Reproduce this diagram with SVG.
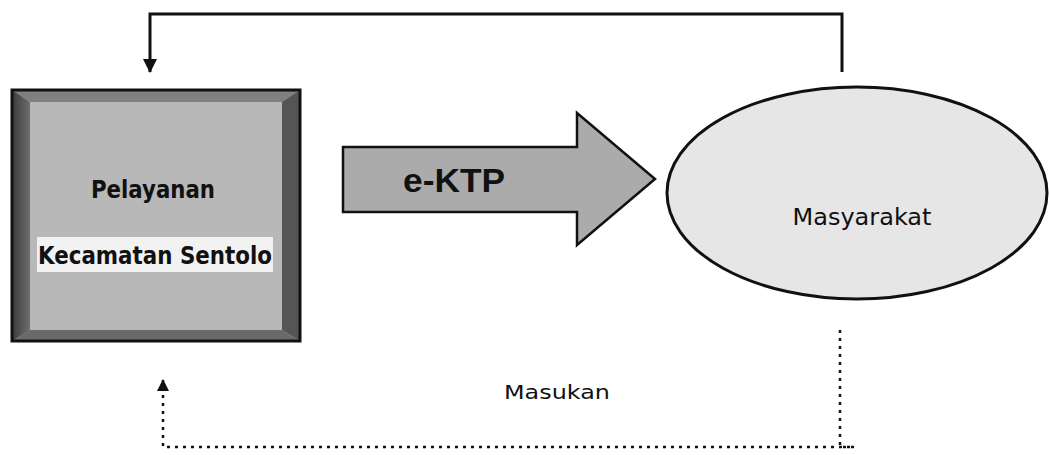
<svg xmlns="http://www.w3.org/2000/svg" width="1049" height="455" viewBox="0 0 1049 455">
  <style>
    .lbl { font-family: "DejaVu Sans", Verdana, sans-serif; fill: #111; }
    .solid { fill: none; stroke: #111; stroke-width: 3; }
    .dotted { fill: none; stroke: #111; stroke-width: 2.5; stroke-dasharray: 3 5; }
  </style>
  <defs>
    <marker id="headSolid" markerWidth="14" markerHeight="14" refX="13" refY="7" orient="auto" markerUnits="userSpaceOnUse" viewBox="0 0 14 14">
      <path d="M0,0 L14,7 L0,14 Z" fill="#111"/>
    </marker>
    <marker id="headSmall" markerWidth="12" markerHeight="12" refX="11" refY="6" orient="auto" markerUnits="userSpaceOnUse" viewBox="0 0 12 12">
      <path d="M0,0 L12,6 L0,12 Z" fill="#111"/>
    </marker>
    <linearGradient id="leftBand" x1="0" y1="0" x2="1" y2="0">
      <stop offset="0" stop-color="#3a3a3a"/>
      <stop offset="1" stop-color="#6e6e6e"/>
    </linearGradient>
  </defs>

  <rect width="1049" height="455" fill="#ffffff"/>

  <!-- service unit box with bevelled frame -->
  <g id="pelayanan">
    <rect x="12" y="90" width="288" height="251" fill="#b8b8b8"/>
    <polygon points="12,90 300,90 282,102 30,102" fill="#808080"/>
    <polygon points="12,90 30,102 30,330 12,341" fill="url(#leftBand)"/>
    <polygon points="300,90 300,341 282,330 282,102" fill="#555555"/>
    <polygon points="12,341 30,330 282,330 300,341" fill="#6a6a6a"/>
    <rect x="12" y="90" width="288" height="251" fill="none" stroke="#111" stroke-width="3"/>
    <text class="lbl" x="153" y="198" font-size="25" font-weight="bold" text-anchor="middle" textLength="124" lengthAdjust="spacingAndGlyphs">Pelayanan</text>
    <rect x="37" y="237" width="236" height="35" fill="#f2f2f2"/>
    <text class="lbl" x="155" y="264" font-size="25" font-weight="bold" text-anchor="middle" textLength="234" lengthAdjust="spacingAndGlyphs">Kecamatan Sentolo</text>
  </g>

  <!-- e-KTP block arrow -->
  <g id="ektp">
    <polygon points="343,147 577,147 577,113 655,179 577,245 577,212 343,212" fill="#ababab" stroke="#111" stroke-width="2.5" stroke-linejoin="miter"/>
    <text x="454" y="192" font-family="'Liberation Sans', Arial, sans-serif" font-size="34" font-weight="bold" fill="#111" text-anchor="middle" textLength="102" lengthAdjust="spacingAndGlyphs">e-KTP</text>
  </g>

  <!-- community ellipse -->
  <g id="masyarakat">
    <ellipse cx="857" cy="193" rx="190" ry="106" fill="#e6e6e6" stroke="#111" stroke-width="3"/>
    <text class="lbl" x="862" y="225" font-size="23" text-anchor="middle" textLength="139" lengthAdjust="spacingAndGlyphs">Masyarakat</text>
  </g>

  <!-- connectors -->
  <g id="connectors">
    <polyline class="solid" points="842,72 842,14 150,14 150,72" marker-end="url(#headSolid)"/>
    <polyline class="dotted" points="840,330 840,447 855,447"/>
    <polyline class="dotted" points="850,447 163,447 163,380" marker-end="url(#headSmall)"/>
    <text class="lbl" x="557" y="399" font-size="19" text-anchor="middle" textLength="106" lengthAdjust="spacingAndGlyphs">Masukan</text>
  </g>
</svg>
